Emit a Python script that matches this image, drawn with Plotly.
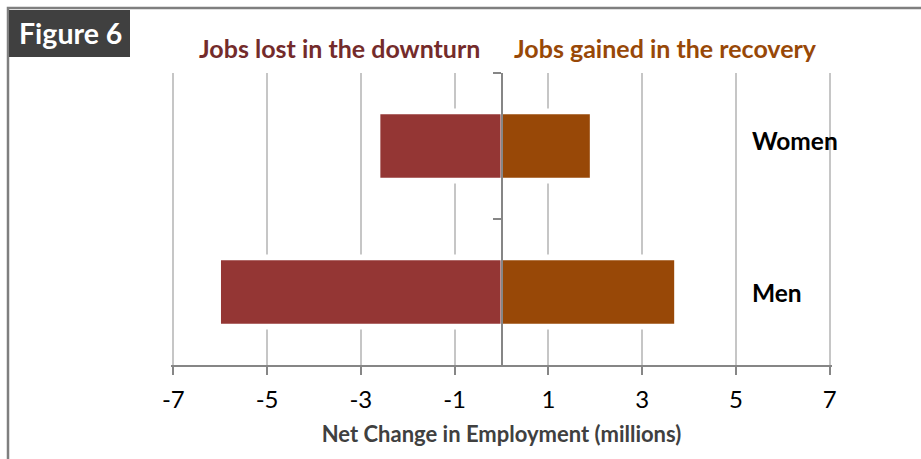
import plotly.graph_objects as go

# Net change in employment, millions
groups = ["Men", "Women"]
jobs_lost = [-6.0, -2.6]
jobs_gained = [3.7, 1.9]
x_ticks = [-7, -5, -3, -1, 1, 3, 5, 7]

LOST_COLOR = "#943634"
GAINED_COLOR = "#984807"
FONT = "Lato"

W, H = 921, 459
L, R, T, B = 171, 89, 73, 94
pw, ph = W - L - R, H - T - B
X_RANGE = [-7.05, 7.05]  # small pad so the end gridlines at ±7 are kept


def px(x):
    return (x - L) / pw


def py(y):
    return (H - B - y) / ph


ypos = list(range(len(groups)))
bar_w = 0.445

fig = go.Figure()

# white halo behind the bars so gridlines break around them
for vals in (jobs_lost, jobs_gained):
    fig.add_trace(go.Bar(
        y=ypos, x=vals, orientation="h", width=bar_w,
        marker=dict(color="white", line=dict(color="white", width=10)),
        hoverinfo="skip", showlegend=False,
    ))

fig.add_trace(go.Bar(
    y=ypos, x=jobs_lost, orientation="h", width=bar_w, name="Jobs lost in the downturn",
    marker=dict(color=LOST_COLOR, line=dict(color="white", width=1.5)),
    showlegend=False,
))
fig.add_trace(go.Bar(
    y=ypos, x=jobs_gained, orientation="h", width=bar_w, name="Jobs gained in the recovery",
    marker=dict(color=GAINED_COLOR, line=dict(color="white", width=1.5)),
    showlegend=False,
))

fig.update_layout(
    width=W, height=H,
    margin=dict(l=L, r=R, t=T, b=B, pad=0),
    paper_bgcolor="white", plot_bgcolor="white",
    barmode="overlay",
    font=dict(family=FONT, color="black"),
    xaxis=dict(
        range=X_RANGE, tickmode="array", tickvals=x_ticks,
        ticktext=[str(v) for v in x_ticks],
        showgrid=True, gridcolor="#C6C6C6", gridwidth=1.5,
        zeroline=False,
        showline=True, linecolor="#868686", linewidth=2,
        ticks="outside", ticklen=8, tickwidth=2, tickcolor="#868686",
        tickfont=dict(size=24, color="black"),
        ticklabelstandoff=4,
        title=dict(text="<b>Net Change in Employment (millions)</b>",
                   font=dict(size=22, color="#404040"), standoff=15),
        fixedrange=True,
    ),
    yaxis=dict(
        range=[-0.5, 1.5], anchor="free", position=0.5,
        tickmode="array", tickvals=[0.5, 1.5], showticklabels=False,
        showgrid=False, zeroline=False,
        showline=True, linecolor="#868686", linewidth=2,
        ticks="outside", ticklen=8, tickwidth=2, tickcolor="#868686",
        layer="above traces",
        fixedrange=True,
    ),
)

# outer frame and figure tag
fig.add_shape(type="path", xref="paper", yref="paper",
              path=f"M {px(8)} {py(459)} L {px(8)} {py(8)} L {px(921)} {py(8)}",
              line=dict(color="#7F7F7F", width=2.5))
fig.add_shape(type="rect", xref="paper", yref="paper",
              x0=px(9), x1=px(130), y0=py(57), y1=py(10),
              fillcolor="#404040", line=dict(width=0))
fig.add_annotation(xref="paper", yref="paper", x=px(70), y=py(33),
                   xanchor="center", yanchor="middle",
                   text="<b>Figure 6</b>", showarrow=False,
                   font=dict(size=28.5, color="white", family=FONT))

# series headers
fig.add_annotation(xref="paper", yref="paper", x=px(482), y=py(48),
                   xanchor="right", yanchor="middle",
                   text="<b>Jobs lost in the downturn</b>", showarrow=False,
                   font=dict(size=25, color="#742B2B", family=FONT))
fig.add_annotation(xref="paper", yref="paper", x=px(512), y=py(48),
                   xanchor="left", yanchor="middle",
                   text="<b>Jobs gained in the recovery</b>", showarrow=False,
                   font=dict(size=25, color=GAINED_COLOR, family=FONT))

# category labels at the right of each row
label_y = {"Men": 0.0, "Women": 1.04}
for g in groups:
    fig.add_annotation(x=5.3, y=label_y[g], xanchor="left", yanchor="middle",
                       text=f"<b>{g}</b>", showarrow=False,
                       font=dict(size=24.5, color="black", family=FONT))

fig.write_html("out.html")
